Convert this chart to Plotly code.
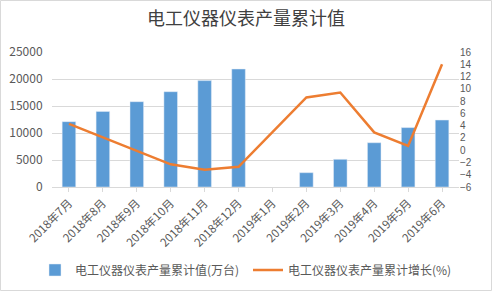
import plotly.graph_objects as go

categories = ["2018年7月", "2018年8月", "2018年9月", "2018年10月", "2018年11月", "2018年12月",
              "2019年1月", "2019年2月", "2019年3月", "2019年4月", "2019年5月", "2019年6月"]
output_values = [12100, 14000, 15800, 17650, 19700, 21850, None, 2650, 5130, 8200, 11000, 12400]
growth_values = [4.3, 2.1, -0.1, -2.3, -3.2, -2.7, None, 8.6, 9.4, 2.9, 0.7, 14.0]

title_text = "电工仪器仪表产量累计值"
bar_name = "电工仪器仪表产量累计值(万台)"
line_name = "电工仪器仪表产量累计增长(%)"

font_family = "Noto Sans CJK SC, Microsoft YaHei, sans-serif"
tick_color = "#595959"

fig = go.Figure()
fig.add_trace(go.Bar(x=categories, y=output_values, name=bar_name, showlegend=True,
                     marker=dict(color="#5B9BD5"), width=0.4, yaxis="y", legend="legend"))
fig.add_trace(go.Scatter(x=categories, y=growth_values, name=line_name, mode="lines",
                         showlegend=True,
                         line=dict(color="#ED7D31", width=2.5), connectgaps=True, yaxis="y2",
                         legend="legend2"))

legend_common = dict(orientation="h", xref="container", yref="container", xanchor="left",
                     y=21/291, yanchor="middle", font=dict(size=12, color=tick_color),
                     itemwidth=30, bgcolor="rgba(0,0,0,0)")

fig.update_layout(
    width=492, height=291,
    showlegend=True,
    margin=dict(l=52, r=33, t=52, b=104, autoexpand=False),
    paper_bgcolor="white", plot_bgcolor="white",
    font=dict(family=font_family, size=11, color=tick_color),
    title=dict(text=title_text, x=0.5, xanchor="center", y=0.935, yanchor="middle",
               font=dict(size=18, color="#404040", family=font_family)),
    xaxis=dict(type="category", tickangle=-45, showgrid=False, showline=True,
               linecolor="#D9D9D9", ticks="outside", ticklen=4, tickcolor="#D9D9D9",
               tickfont=dict(size=11.5, color=tick_color)),
    yaxis=dict(range=[0, 25000], dtick=5000, tickformat="d", showgrid=True, gridcolor="#D9D9D9",
               zeroline=False, tickfont=dict(size=12, color=tick_color), ticklen=6,
               ticks="outside", tickcolor="rgba(0,0,0,0)"),
    yaxis2=dict(range=[-6, 16], dtick=2, overlaying="y", side="right", showgrid=False,
                zeroline=False,
                tickfont=dict(size=10, color=tick_color, family="Liberation Sans, Arial, sans-serif")),
    legend=dict(x=35/492, **legend_common),
    legend2=dict(x=248/492, **legend_common),
    bargap=0.6,
    shapes=[dict(type="rect", xref="paper", yref="paper", x0=-51.5/407, x1=1+32.5/407,
                 y0=-103.5/135, y1=1+51.5/135, line=dict(color="#D9D9D9", width=1))],
)

fig.write_html("out.html")
